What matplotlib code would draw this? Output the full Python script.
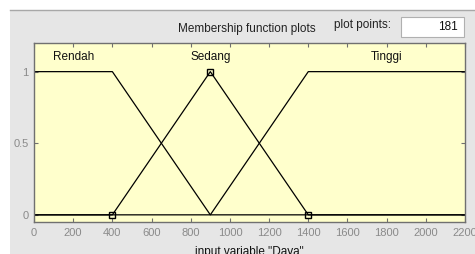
import matplotlib.pyplot as plt
from matplotlib.patches import Rectangle

# membership functions of input variable "Daya" (breakpoints)
mf_names = ['Rendah', 'Sedang', 'Tinggi']
mf_x = [[0, 400, 900, 2200],
        [0, 400, 900, 1400, 2200],
        [0, 900, 1400, 2200]]
mf_y = [[1, 1, 0, 0],
        [0, 0, 1, 0, 0],
        [0, 0, 1, 1]]
label_x = [200, 900, 1800]
# selected MF (Sedang) vertices, drawn with square handles
sel_x = [400, 900, 1400]
sel_y = [0, 1, 0]

xticks = list(range(0, 2201, 200))
yticks = [0, 0.5, 1]

W, H = 475, 254
fig = plt.figure(figsize=(W / 100, H / 100), dpi=100, facecolor='white')
plt.rcParams['font.family'] = ['Liberation Sans', 'DejaVu Sans']

# gray panel behind everything
fig.patches.append(Rectangle((10 / W, 0), 1, (H - 10) / H, transform=fig.transFigure,
                             facecolor='#e6e6e6', edgecolor='none', zorder=-10))
fig.add_artist(plt.Line2D([10 / W, 1], [(H - 10) / H] * 2, transform=fig.transFigure,
                          color='#a8a8a8', lw=1, zorder=-9))

ax = fig.add_axes([34 / W, (H - 222) / H, (465 - 34) / W, (222 - 43) / H])
ax.set_facecolor('#ffffcc')

for xs, ys in zip(mf_x, mf_y):
    ax.plot(xs, ys, color='black', lw=0.9)
ax.plot(sel_x, sel_y, linestyle='none', marker='s', markersize=4.5,
        markerfacecolor='none', markeredgecolor='black', markeredgewidth=1)

for name, lx in zip(mf_names, label_x):
    ax.text(lx, 1.1, name, ha='center', va='center', fontsize=8.5, color='#111111')

ax.set_xlim(0, 2200)
ax.set_ylim(-0.05, 1.2)
ax.set_xticks(xticks)
ax.set_yticks(yticks)
ax.set_yticklabels(['0', '0.5', '1'])
ax.tick_params(direction='in', length=3, top=True, right=True, labelsize=8,
               labelcolor='#8a8a8a', color='#707070', pad=4)
for s in ax.spines.values():
    s.set_color('#707070')
    s.set_linewidth(1)
ax.set_xlabel('input variable "Daya"', fontsize=8.5, color='#111111', labelpad=6)

fig.text(247 / W, (H - 29) / H, 'Membership function plots', ha='center', va='center',
         fontsize=8.5, color='#222222')
fig.text(362 / W, (H - 25) / H, 'plot points:', ha='center', va='center',
         fontsize=8.5, color='#222222')
fig.patches.append(Rectangle((401 / W, (H - 37) / H), 63 / W, 20 / H, transform=fig.transFigure,
                             facecolor='white', edgecolor='#b0b0b0', lw=0.8, zorder=1))
fig.text(458 / W, (H - 27) / H, '181', ha='right', va='center', fontsize=8.5, color='#111111')

fig.savefig('out.png', dpi=100)
